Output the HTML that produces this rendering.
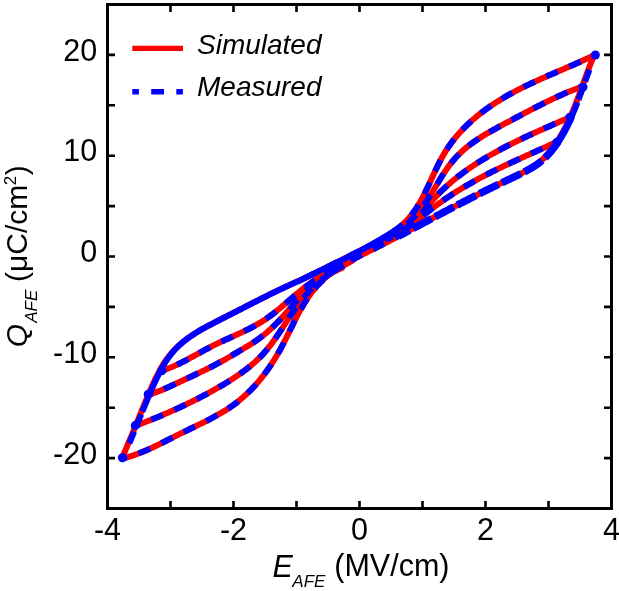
<!DOCTYPE html>
<html><head><meta charset="utf-8"><style>
html,body{margin:0;padding:0;background:#fff;}
body{width:619px;height:591px;position:relative;overflow:hidden;}
</style></head><body>
<svg width="619" height="591" viewBox="0 0 619 591" style="position:absolute;left:0;top:0;will-change:transform">
<rect width="619" height="591" fill="#fff"/>
<g fill="none" stroke="#f00" stroke-width="6.00" stroke-linejoin="round" stroke-linecap="round">
<path d="M328.00 271.30 L329.82 270.42 L331.64 269.54 L333.46 268.66 L335.28 267.79 L337.10 266.91 L338.92 266.03 L340.73 265.15 L342.55 264.27 L344.37 263.39 L346.18 262.51 L348.00 261.63 L349.81 260.74 L351.62 259.86 L353.43 258.97 L355.24 258.09 L357.05 257.20 L358.86 256.31 L360.67 255.42 L362.48 254.53 L364.29 253.63 L366.09 252.74 L367.90 251.84 L369.70 250.94 L371.50 250.04 L373.30 249.13 L375.10 248.22 L376.90 247.31 L378.70 246.40 L380.50 245.48 L382.29 244.56 L384.09 243.64 L385.88 242.72 L387.68 241.79 L389.47 240.87 L391.26 239.94 L393.05 239.01 L394.84 238.07 L396.63 237.14 L398.42 236.20 L400.20 235.26 L401.99 234.32 L403.78 233.38 L405.56 232.44 L407.35 231.50 L409.13 230.56 L410.92 229.61 L412.70 228.67 L414.48 227.72 L416.27 226.78 L418.05 225.83 L419.83 224.88 L421.61 223.94 L423.39 222.99 L425.17 222.04 L426.96 221.10 L428.74 220.15 L430.52 219.20 L432.30 218.26 L434.08 217.31 L435.86 216.37 L437.64 215.43 L439.42 214.48 L441.20 213.54 L442.98 212.60 L444.77 211.66 L446.55 210.72 L448.33 209.78 L450.12 208.84 L451.90 207.91 L453.68 206.97 L455.47 206.04 L457.26 205.11 L459.04 204.18 L460.83 203.25 L462.62 202.32 L464.41 201.40 L466.20 200.47 L468.00 199.55 L469.79 198.63 L471.58 197.72 L473.38 196.80 L475.18 195.89 L476.98 194.98 L478.78 194.07 L480.58 193.16 L482.38 192.26 L484.19 191.36 L486.00 190.46 L487.81 189.57 L489.62 188.68 L491.43 187.79 L493.25 186.90 L495.06 186.02 L496.88 185.14 L498.70 184.26 L500.53 183.39 L502.35 182.52 L504.18 181.65 L506.01 180.79 L507.84 179.93 L509.67 179.07 L511.50 178.20 L513.33 177.34 L515.16 176.46 L516.99 175.58 L518.79 174.69 L520.57 173.79 L522.33 172.88 L524.09 171.95 L525.84 171.01 L527.58 170.04 L529.31 169.06 L531.01 168.05 L532.70 167.00 L534.35 165.93 L535.97 164.81 L537.56 163.65 L539.10 162.44 L540.60 161.18 L542.05 159.88 L543.47 158.54 L544.84 157.15 L546.18 155.73 L547.48 154.27 L548.74 152.78 L549.97 151.25 L551.18 149.70 L552.41 148.12 L553.62 146.51 L554.80 144.88 L555.94 143.23 L557.07 141.55 L558.16 139.86 L559.23 138.16 L560.27 136.44 L561.29 134.71 L562.29 132.96 L563.26 131.20 L564.22 129.43 L565.15 127.65 L566.06 125.85 L566.96 124.05 L567.83 122.23 L568.69 120.41 L569.54 118.57 L570.36 116.73 L571.18 114.88 L571.98 113.02 L572.76 111.15 L573.54 109.28 L574.30 107.40 L575.05 105.51 L575.79 103.62 L576.52 101.73 L577.25 99.83 L577.97 97.93 L578.68 96.03 L579.38 94.12 L580.09 92.21 L580.78 90.30 L581.48 88.39 L582.17 86.48 L582.86 84.57 L583.55 82.66 L584.24 80.76 L584.93 78.85 L585.63 76.95 L586.32 75.05 L587.02 73.15 L587.73 71.26 L588.44 69.37 L589.15 67.49 L589.87 65.61 L590.60 63.74 L591.34 61.88 L592.09 60.02 L592.85 58.17 L593.62 56.33 L594.40 54.50"/>
<path d="M300.00 280.40 L298.12 281.22 L296.25 282.04 L294.39 282.86 L292.53 283.70 L290.68 284.53 L288.83 285.38 L286.99 286.22 L285.15 287.08 L283.32 287.93 L281.49 288.79 L279.67 289.66 L277.85 290.53 L276.03 291.40 L274.22 292.28 L272.41 293.16 L270.60 294.04 L268.80 294.93 L267.00 295.82 L265.20 296.71 L263.40 297.61 L261.61 298.51 L259.81 299.41 L258.02 300.32 L256.23 301.22 L254.44 302.13 L252.65 303.04 L250.86 303.96 L249.07 304.87 L247.28 305.79 L245.49 306.71 L243.69 307.62 L241.90 308.55 L240.11 309.47 L238.31 310.39 L236.52 311.31 L234.72 312.24 L232.92 313.16 L231.11 314.08 L229.31 315.01 L227.50 315.93 L225.69 316.86 L223.87 317.78 L222.06 318.70 L220.23 319.63 L218.41 320.55 L216.59 321.48 L214.76 322.41 L212.94 323.35 L211.13 324.29 L209.32 325.25 L207.51 326.21 L205.72 327.18 L203.93 328.16 L202.16 329.16 L200.40 330.17 L198.65 331.20 L196.91 332.25 L195.20 333.31 L193.50 334.40 L191.82 335.51 L190.17 336.64 L188.54 337.79 L186.93 338.97 L185.34 340.18 L183.73 341.41 L182.15 342.68 L180.60 343.97 L179.08 345.30 L177.59 346.66 L176.14 348.06 L174.71 349.49 L173.33 350.96 L171.98 352.47 L170.66 354.02 L169.38 355.60 L168.14 357.21 L166.92 358.85 L165.73 360.52 L164.57 362.22 L163.44 363.94 L162.36 365.68 L161.35 367.44 L160.37 369.22 L159.40 371.01 L158.46 372.82 L157.53 374.64 L156.63 376.46 L155.74 378.30 L154.86 380.15 L154.00 382.00 L153.15 383.86 L152.32 385.72 L151.49 387.58 L150.67 389.45 L149.86 391.32 L149.06 393.18 L148.26 395.05 L147.47 396.91 L146.68 398.78 L145.89 400.64 L145.11 402.51 L144.33 404.37 L143.56 406.23 L142.79 408.10 L142.02 409.96 L141.25 411.82 L140.49 413.68 L139.73 415.54 L138.97 417.40 L138.21 419.26 L137.45 421.13 L136.69 422.99 L135.93 424.85 L135.17 426.71 L134.41 428.57 L133.65 430.43 L132.89 432.29 L132.13 434.15 L131.36 436.02 L130.59 437.88 L129.82 439.74 L129.05 441.60 L128.27 443.47 L127.49 445.33 L126.71 447.20 L125.92 449.06 L125.13 450.93 L124.33 452.79 L123.52 454.66 L122.71 456.53 L121.90 458.40"/>
<path d="M595.60 54.50 L593.79 55.38 L591.99 56.26 L590.17 57.13 L588.35 57.99 L586.53 58.84 L584.71 59.68 L582.88 60.52 L581.05 61.35 L579.22 62.18 L577.39 63.00 L575.55 63.82 L573.71 64.63 L571.87 65.44 L570.03 66.25 L568.18 67.05 L566.34 67.85 L564.49 68.65 L562.65 69.45 L560.80 70.25 L558.95 71.04 L557.11 71.84 L555.26 72.64 L553.41 73.44 L551.57 74.24 L549.72 75.04 L547.88 75.85 L546.04 76.66 L544.20 77.47 L542.36 78.28 L540.53 79.10 L538.69 79.93 L536.86 80.76 L535.04 81.60 L533.21 82.44 L531.39 83.29 L529.57 84.15 L527.76 85.02 L525.95 85.89 L524.14 86.77 L522.34 87.67 L520.54 88.57 L518.75 89.48 L516.97 90.41 L515.18 91.34 L513.41 92.29 L511.64 93.24 L509.87 94.22 L508.12 95.20 L506.37 96.20 L504.62 97.21 L502.88 98.24 L501.16 99.28 L499.44 100.33 L497.72 101.40 L496.02 102.48 L494.33 103.58 L492.65 104.70 L490.97 105.82 L489.31 106.97 L487.66 108.13 L486.03 109.30 L484.40 110.49 L482.79 111.70 L481.19 112.92 L479.61 114.16 L478.04 115.41 L476.49 116.68 L474.95 117.97 L473.42 119.27 L471.92 120.59 L470.43 121.93 L468.96 123.28 L467.50 124.65 L466.07 126.04 L464.65 127.45 L463.25 128.87 L461.87 130.31 L460.51 131.77 L459.18 133.25 L457.86 134.74 L456.56 136.26 L455.29 137.79 L454.04 139.34 L452.81 140.91 L451.61 142.50 L450.43 144.11 L449.27 145.73 L448.14 147.38 L447.04 149.05 L445.96 150.73 L444.91 152.44 L443.88 154.16 L442.88 155.90 L441.90 157.66 L440.93 159.44 L439.99 161.22 L439.07 163.02 L438.16 164.83 L437.26 166.66 L436.37 168.49 L435.50 170.32 L434.63 172.17 L433.77 174.02 L432.91 175.87 L432.06 177.72 L431.21 179.58 L430.36 181.43 L429.50 183.29 L428.64 185.14 L427.78 186.99 L426.91 188.83 L426.02 190.66 L425.13 192.49 L424.23 194.30 L423.31 196.11 L422.37 197.90 L421.42 199.68 L420.44 201.44 L419.45 203.18 L418.43 204.90 L417.38 206.60 L416.31 208.27 L415.21 209.92 L414.08 211.54 L412.92 213.13 L411.72 214.69 L410.48 216.22 L409.21 217.71 L407.89 219.17 L406.55 220.59 L405.16 221.98 L403.74 223.34 L402.29 224.67 L400.80 225.97 L399.28 227.24 L397.74 228.48 L396.17 229.69 L394.57 230.88 L392.95 232.05 L391.30 233.19 L389.64 234.31 L387.95 235.41 L386.24 236.49 L384.52 237.55 L382.78 238.60 L381.03 239.62 L379.26 240.63 L377.49 241.63 L375.70 242.61 L373.90 243.59 L372.10 244.55 L370.29 245.50 L368.47 246.44 L366.66 247.38 L364.84 248.30 L363.02 249.23 L361.20 250.15 L359.39 251.06 L357.58 251.97 L355.77 252.88 L353.96 253.79 L352.16 254.70 L350.36 255.60 L348.57 256.50 L346.77 257.40 L344.98 258.30 L343.19 259.20 L341.40 260.09 L339.61 260.98 L337.82 261.88 L336.03 262.77 L334.25 263.65 L332.46 264.54 L330.67 265.43 L328.88 266.31 L327.09 267.20 L325.30 268.08 L323.51 268.96 L321.72 269.84 L319.93 270.73 L318.13 271.61 L316.33 272.49 L314.53 273.37 L312.73 274.25 L310.92 275.12 L309.11 276.00 L307.30 276.88 L305.48 277.76 L303.66 278.64 L301.83 279.52 L300.00 280.40"/>
<path d="M582.70 86.30 L580.77 87.00 L578.85 87.72 L576.94 88.45 L575.03 89.18 L573.14 89.94 L571.25 90.70 L569.38 91.47 L567.51 92.26 L565.64 93.05 L563.79 93.86 L561.94 94.67 L560.10 95.49 L558.26 96.33 L556.43 97.17 L554.60 98.02 L552.78 98.88 L550.97 99.74 L549.15 100.62 L547.35 101.50 L545.54 102.38 L543.74 103.28 L541.94 104.18 L540.15 105.08 L538.35 105.99 L536.56 106.91 L534.77 107.83 L532.98 108.76 L531.19 109.69 L529.40 110.62 L527.62 111.56 L525.83 112.50 L524.04 113.44 L522.25 114.39 L520.46 115.34 L518.67 116.29 L516.87 117.24 L515.08 118.19 L513.28 119.15 L511.47 120.10 L509.67 121.06 L507.86 122.01 L506.05 122.97 L504.24 123.93 L502.43 124.90 L500.62 125.86 L498.81 126.84 L497.00 127.82 L495.20 128.81 L493.41 129.80 L491.62 130.81 L489.84 131.82 L488.07 132.85 L486.31 133.89 L484.56 134.94 L482.82 136.00 L481.09 137.09 L479.38 138.18 L477.68 139.30 L476.00 140.43 L474.34 141.58 L472.69 142.75 L471.07 143.94 L469.46 145.15 L467.88 146.39 L466.32 147.65 L464.78 148.93 L463.26 150.24 L461.78 151.58 L460.32 152.94 L458.88 154.34 L457.48 155.76 L456.10 157.21 L454.76 158.69 L453.45 160.21 L452.17 161.75 L450.91 163.33 L449.69 164.93 L448.48 166.55 L447.30 168.20 L446.15 169.87 L445.01 171.56 L443.88 173.26 L442.77 174.98 L441.68 176.71 L440.59 178.45 L439.51 180.20 L438.44 181.95 L437.38 183.71 L436.32 185.48 L435.26 187.24 L434.20 189.00 L433.13 190.76 L432.07 192.51 L430.99 194.26 L429.91 196.00 L428.81 197.72 L427.71 199.43 L426.58 201.13 L425.45 202.81 L424.29 204.47 L423.12 206.11 L421.92 207.72 L420.70 209.32 L419.46 210.88 L418.19 212.43 L416.89 213.94 L415.57 215.43 L414.23 216.90 L412.85 218.33 L411.44 219.73 L410.01 221.11 L408.54 222.45 L407.03 223.76 L405.50 225.03 L403.93 226.28 L402.32 227.48 L400.68 228.66 L399.00 229.79 L397.29 230.90 L395.56 231.97 L393.80 233.02 L392.01 234.04 L390.22 235.04 L388.40 236.01 L386.58 236.97 L384.75 237.90 L382.91 238.82 L381.07 239.73 L379.23 240.62 L377.40 241.50"/>
<path d="M570.40 117.00 L568.56 117.81 L566.72 118.61 L564.88 119.42 L563.04 120.23 L561.20 121.03 L559.35 121.84 L557.50 122.65 L555.65 123.46 L553.80 124.27 L551.95 125.08 L550.10 125.89 L548.25 126.71 L546.39 127.52 L544.54 128.34 L542.69 129.17 L540.84 129.99 L538.99 130.82 L537.14 131.65 L535.29 132.49 L533.44 133.33 L531.60 134.17 L529.75 135.02 L527.91 135.87 L526.07 136.73 L524.23 137.59 L522.39 138.46 L520.56 139.33 L518.73 140.21 L516.90 141.09 L515.08 141.98 L513.26 142.88 L511.44 143.79 L509.63 144.70 L507.82 145.62 L506.02 146.54 L504.22 147.48 L502.43 148.42 L500.64 149.37 L498.85 150.33 L497.08 151.29 L495.30 152.27 L493.53 153.26 L491.77 154.25 L490.02 155.25 L488.27 156.27 L486.53 157.29 L484.79 158.33 L483.06 159.37 L481.34 160.43 L479.63 161.50 L477.92 162.58 L476.23 163.67 L474.54 164.77 L472.86 165.88 L471.18 167.01 L469.52 168.15 L467.86 169.30 L466.22 170.46 L464.58 171.64 L462.95 172.83 L461.34 174.04 L459.73 175.26 L458.14 176.49 L456.55 177.74 L454.98 179.00 L453.42 180.27 L451.87 181.56 L450.34 182.87 L448.81 184.19 L447.30 185.52 L445.81 186.87 L444.32 188.24 L442.86 189.62 L441.40 191.02 L439.96 192.43 L438.54 193.86 L437.13 195.31 L435.74 196.77 L434.36 198.25 L433.00 199.75 L431.66 201.26 L430.33 202.80 L429.02 204.34 L427.73 205.91 L426.44 207.48 L425.16 209.05 L423.88 210.62 L422.59 212.19 L421.30 213.75 L419.99 215.29 L418.66 216.81 L417.32 218.31 L415.95 219.78 L414.54 221.21 L413.11 222.60 L411.63 223.95 L410.11 225.25 L408.54 226.50 L406.92 227.69 L405.25 228.82 L403.53 229.90 L401.78 230.93 L399.99 231.91 L398.17 232.85 L396.33 233.75 L394.46 234.61 L392.58 235.45 L390.69 236.25 L388.79 237.02 L386.89 237.77 L385.00 238.50"/>
<path d="M557.50 141.50 L555.67 142.36 L553.83 143.22 L551.99 144.07 L550.15 144.92 L548.31 145.77 L546.47 146.62 L544.62 147.46 L542.77 148.30 L540.92 149.14 L539.07 149.98 L537.22 150.82 L535.36 151.66 L533.51 152.50 L531.65 153.34 L529.80 154.17 L527.94 155.01 L526.08 155.85 L524.23 156.69 L522.37 157.53 L520.52 158.37 L518.66 159.22 L516.81 160.07 L514.96 160.91 L513.10 161.77 L511.25 162.62 L509.41 163.48 L507.56 164.34 L505.71 165.21 L503.87 166.08 L502.03 166.95 L500.20 167.83 L498.36 168.72 L496.53 169.61 L494.70 170.50 L492.88 171.40 L491.05 172.31 L489.24 173.22 L487.42 174.14 L485.61 175.07 L483.81 176.01 L482.01 176.95 L480.21 177.90 L478.42 178.86 L476.64 179.82 L474.85 180.80 L473.08 181.78 L471.31 182.78 L469.55 183.78 L467.79 184.80 L466.04 185.82 L464.29 186.85 L462.55 187.89 L460.82 188.95 L459.09 190.01 L457.37 191.08 L455.65 192.16 L453.95 193.25 L452.24 194.35 L450.55 195.46 L448.85 196.58 L447.17 197.71 L445.49 198.85 L443.82 200.00 L442.16 201.16 L440.50 202.33 L438.84 203.51 L437.20 204.69 L435.56 205.89 L433.92 207.10 L432.30 208.32 L430.68 209.54 L429.06 210.78 L427.45 212.02 L425.85 213.28 L424.26 214.55 L422.67 215.82 L421.09 217.10 L419.50 218.39 L417.92 219.67 L416.34 220.95 L414.75 222.22 L413.16 223.49 L411.55 224.73 L409.94 225.97 L408.31 227.18 L406.67 228.36 L405.01 229.52 L403.34 230.65 L401.64 231.75 L399.91 232.80 L398.16 233.82 L396.38 234.79 L394.57 235.71 L392.73 236.59 L390.86 237.41 L388.94 238.17 L386.99 238.87 L385.00 239.50"/>
<path d="M122.90 458.40 L124.90 457.89 L126.88 457.35 L128.84 456.78 L130.79 456.19 L132.72 455.56 L134.64 454.91 L136.54 454.23 L138.43 453.52 L140.31 452.80 L142.18 452.05 L144.04 451.28 L145.89 450.50 L147.74 449.69 L149.57 448.87 L151.40 448.04 L153.22 447.19 L155.03 446.33 L156.84 445.46 L158.65 444.57 L160.45 443.68 L162.25 442.78 L164.05 441.88 L165.84 440.96 L167.64 440.05 L169.44 439.13 L171.24 438.22 L173.04 437.30 L174.84 436.38 L176.65 435.47 L178.46 434.56 L180.28 433.65 L182.10 432.76 L183.93 431.86 L185.76 430.97 L187.60 430.09 L189.44 429.20 L191.28 428.32 L193.12 427.43 L194.96 426.55 L196.79 425.66 L198.63 424.77 L200.47 423.88 L202.30 422.98 L204.13 422.07 L205.95 421.16 L207.76 420.24 L209.57 419.31 L211.38 418.36 L213.17 417.41 L214.96 416.45 L216.73 415.47 L218.50 414.47 L220.25 413.47 L221.99 412.44 L223.72 411.40 L225.43 410.34 L227.13 409.26 L228.81 408.15 L230.48 407.03 L232.13 405.88 L233.76 404.72 L235.37 403.52 L236.96 402.30 L238.54 401.06 L240.09 399.79 L241.63 398.50 L243.15 397.19 L244.65 395.85 L246.13 394.50 L247.59 393.12 L249.03 391.72 L250.46 390.30 L251.86 388.86 L253.25 387.40 L254.62 385.92 L255.97 384.42 L257.30 382.91 L258.62 381.37 L259.92 379.82 L261.20 378.25 L262.46 376.67 L263.70 375.07 L264.93 373.45 L266.13 371.82 L267.33 370.18 L268.50 368.52 L269.65 366.84 L270.79 365.16 L271.91 363.46 L273.02 361.74 L274.10 360.02 L275.17 358.28 L276.23 356.54 L277.26 354.78 L278.28 353.01 L279.28 351.24 L280.27 349.45 L281.24 347.66 L282.19 345.86 L283.13 344.05 L284.07 342.23 L284.99 340.42 L285.90 338.59 L286.81 336.77 L287.71 334.94 L288.61 333.11 L289.50 331.28 L290.40 329.46 L291.29 327.63 L292.18 325.81 L293.08 323.99 L293.98 322.17 L294.89 320.36 L295.81 318.55 L296.73 316.76 L297.66 314.97 L298.61 313.19 L299.57 311.41 L300.54 309.65 L301.53 307.90 L302.53 306.17 L303.56 304.44 L304.60 302.73 L305.67 301.04 L306.75 299.36 L307.87 297.70 L309.00 296.05 L310.17 294.43 L311.36 292.82 L312.59 291.23 L313.84 289.67 L315.13 288.13 L316.45 286.61 L317.80 285.11 L319.18 283.65 L320.60 282.21 L322.04 280.79 L323.52 279.41 L325.03 278.06 L326.57 276.74 L328.14 275.46 L329.74 274.21 L331.37 273.00 L333.02 271.83 L334.71 270.69 L336.42 269.60 L338.16 268.54 L339.92 267.52 L341.69 266.52 L343.47 265.53 L345.26 264.55 L347.04 263.57 L348.81 262.58 L350.56 261.58 L352.29 260.56 L354.00 259.50"/>
<path d="M135.90 425.70 L137.81 424.98 L139.71 424.25 L141.61 423.51 L143.51 422.78 L145.40 422.03 L147.30 421.29 L149.18 420.54 L151.07 419.78 L152.95 419.02 L154.82 418.25 L156.70 417.48 L158.57 416.71 L160.44 415.92 L162.30 415.14 L164.16 414.34 L166.02 413.55 L167.87 412.74 L169.72 411.93 L171.57 411.11 L173.41 410.29 L175.25 409.46 L177.09 408.63 L178.93 407.79 L180.76 406.94 L182.59 406.08 L184.41 405.22 L186.23 404.35 L188.05 403.48 L189.87 402.59 L191.68 401.70 L193.49 400.81 L195.29 399.90 L197.09 398.99 L198.89 398.07 L200.69 397.14 L202.48 396.20 L204.27 395.26 L206.06 394.31 L207.84 393.35 L209.63 392.38 L211.40 391.40 L213.18 390.41 L214.95 389.42 L216.72 388.42 L218.48 387.40 L220.25 386.38 L222.01 385.35 L223.76 384.31 L225.51 383.26 L227.26 382.20 L229.00 381.12 L230.73 380.04 L232.45 378.94 L234.16 377.83 L235.86 376.70 L237.56 375.56 L239.23 374.40 L240.90 373.23 L242.55 372.04 L244.19 370.84 L245.81 369.62 L247.41 368.38 L249.00 367.12 L250.57 365.84 L252.11 364.54 L253.64 363.22 L255.14 361.88 L256.63 360.51 L258.08 359.13 L259.52 357.72 L260.93 356.29 L262.31 354.83 L263.67 353.35 L265.00 351.85 L266.30 350.32 L267.58 348.77 L268.85 347.21 L270.09 345.62 L271.31 344.02 L272.51 342.40 L273.70 340.76 L274.88 339.12 L276.04 337.46 L277.19 335.79 L278.34 334.11 L279.47 332.42 L280.60 330.73 L281.72 329.03 L282.84 327.32 L283.95 325.62 L285.07 323.91 L286.18 322.20 L287.30 320.49 L288.42 318.78 L289.54 317.08 L290.67 315.38 L291.81 313.69 L292.96 312.00 L294.12 310.32 L295.29 308.66 L296.48 307.00 L297.67 305.36 L298.89 303.73 L300.11 302.11 L301.36 300.51 L302.62 298.92 L303.90 297.36 L305.19 295.81 L306.51 294.28 L307.84 292.77 L309.20 291.29 L310.58 289.83 L311.98 288.39 L313.41 286.98 L314.85 285.60 L316.33 284.24 L317.83 282.91 L319.35 281.61 L320.91 280.35 L322.49 279.11 L324.10 277.91 L325.74 276.75 L327.42 275.62 L329.12 274.52 L330.86 273.47 L332.63 272.45 L334.43 271.48 L336.27 270.54 L338.14 269.65 L340.05 268.80 L342.00 268.00"/>
<path d="M148.60 394.70 L150.54 394.11 L152.47 393.48 L154.39 392.82 L156.29 392.13 L158.18 391.42 L160.07 390.67 L161.94 389.91 L163.81 389.13 L165.67 388.33 L167.53 387.51 L169.38 386.68 L171.22 385.84 L173.06 384.99 L174.90 384.13 L176.74 383.27 L178.57 382.41 L180.41 381.55 L182.24 380.69 L184.08 379.83 L185.92 378.98 L187.76 378.12 L189.59 377.27 L191.43 376.41 L193.26 375.56 L195.09 374.70 L196.93 373.83 L198.76 372.97 L200.58 372.10 L202.41 371.22 L204.23 370.34 L206.05 369.45 L207.86 368.55 L209.67 367.65 L211.48 366.73 L213.28 365.81 L215.07 364.88 L216.86 363.93 L218.65 362.97 L220.43 362.00 L222.20 361.02 L223.97 360.03 L225.74 359.03 L227.50 358.02 L229.26 357.00 L231.02 355.98 L232.77 354.95 L234.52 353.92 L236.27 352.88 L238.02 351.84 L239.77 350.79 L241.52 349.75 L243.27 348.71 L245.01 347.66 L246.76 346.62 L248.50 345.57 L250.24 344.50 L251.96 343.43 L253.67 342.34 L255.36 341.22 L257.03 340.08 L258.67 338.91 L260.30 337.72 L261.90 336.49 L263.48 335.24 L265.03 333.97 L266.57 332.67 L268.09 331.35 L269.59 330.00 L271.08 328.64 L272.55 327.26 L274.00 325.86 L275.44 324.44 L276.86 323.01 L278.27 321.56 L279.67 320.09 L281.06 318.62 L282.44 317.13 L283.81 315.63 L285.17 314.12 L286.52 312.60 L287.86 311.08 L289.20 309.55 L290.54 308.01 L291.87 306.47 L293.19 304.93 L294.52 303.38 L295.84 301.83 L297.16 300.29 L298.49 298.75 L299.82 297.21 L301.16 295.69 L302.51 294.18 L303.87 292.69 L305.25 291.21 L306.65 289.76 L308.07 288.33 L309.52 286.93 L310.99 285.56 L312.48 284.22 L314.01 282.92 L315.57 281.66 L317.17 280.44 L318.81 279.26 L320.47 278.12 L322.18 277.02 L323.91 275.97 L325.68 274.95 L327.49 273.98 L329.32 273.05 L331.18 272.16 L333.08 271.31 L335.00 270.50"/>
<path d="M161.80 370.80 L163.73 370.15 L165.65 369.47 L167.54 368.75 L169.43 368.01 L171.29 367.24 L173.15 366.45 L174.99 365.63 L176.82 364.78 L178.64 363.92 L180.45 363.04 L182.26 362.14 L184.05 361.23 L185.84 360.30 L187.62 359.37 L189.40 358.42 L191.17 357.46 L192.94 356.50 L194.71 355.53 L196.48 354.56 L198.24 353.58 L200.01 352.61 L201.78 351.64 L203.55 350.67 L205.33 349.71 L207.11 348.76 L208.90 347.81 L210.69 346.88 L212.49 345.95 L214.30 345.04 L216.12 344.15 L217.94 343.27 L219.78 342.40 L221.62 341.54 L223.46 340.68 L225.31 339.84 L227.16 339.00 L229.01 338.16 L230.86 337.32 L232.71 336.49 L234.56 335.65 L236.41 334.81 L238.25 333.97 L240.10 333.12 L241.93 332.26 L243.76 331.39 L245.58 330.51 L247.40 329.62 L249.20 328.71 L250.99 327.79 L252.78 326.85 L254.55 325.90 L256.30 324.92 L258.05 323.92 L259.78 322.90 L261.49 321.85 L263.18 320.77 L264.86 319.67 L266.52 318.54 L268.16 317.38 L269.79 316.20 L271.40 315.00 L273.00 313.78 L274.59 312.54 L276.17 311.28 L277.74 310.01 L279.30 308.73 L280.85 307.44 L282.40 306.13 L283.94 304.82 L285.48 303.51 L287.02 302.19 L288.56 300.87 L290.09 299.55 L291.63 298.23 L293.17 296.91 L294.72 295.60 L296.26 294.30 L297.82 293.00 L299.38 291.72 L300.95 290.45 L302.53 289.19 L304.12 287.95 L305.72 286.73 L307.33 285.52 L308.96 284.34 L310.60 283.18 L312.26 282.05 L313.94 280.94 L315.63 279.87 L317.35 278.82 L319.08 277.81 L320.84 276.83 L322.62 275.88 L324.43 274.97 L326.26 274.11 L328.11 273.28 L330.00 272.50"/>
</g>
<g fill="none" stroke="#00f" stroke-width="6.00" stroke-linejoin="round" stroke-dasharray="12.5 12.5" stroke-dashoffset="8.5">
<path d="M595.60 54.50 L593.79 55.38 L591.99 56.26 L590.17 57.13 L588.35 57.99 L586.53 58.84 L584.71 59.68 L582.88 60.52 L581.05 61.35 L579.22 62.18 L577.39 63.00 L575.55 63.82 L573.71 64.63 L571.87 65.44 L570.03 66.25 L568.18 67.05 L566.34 67.85 L564.49 68.65 L562.65 69.45 L560.80 70.25 L558.95 71.04 L557.11 71.84 L555.26 72.64 L553.41 73.44 L551.57 74.24 L549.72 75.04 L547.88 75.85 L546.04 76.66 L544.20 77.47 L542.36 78.28 L540.53 79.10 L538.69 79.93 L536.86 80.76 L535.04 81.60 L533.21 82.44 L531.39 83.29 L529.57 84.15 L527.76 85.02 L525.95 85.89 L524.14 86.77 L522.34 87.67 L520.54 88.57 L518.75 89.48 L516.97 90.41 L515.18 91.34 L513.41 92.29 L511.64 93.24 L509.87 94.22 L508.12 95.20 L506.37 96.20 L504.62 97.21 L502.88 98.24 L501.16 99.28 L499.44 100.33 L497.72 101.40 L496.02 102.48 L494.33 103.58 L492.65 104.70 L490.97 105.82 L489.31 106.97 L487.66 108.13 L486.03 109.30 L484.40 110.49 L482.79 111.70 L481.19 112.92 L479.61 114.16 L478.04 115.41 L476.49 116.68 L474.95 117.97 L473.42 119.27 L471.92 120.59 L470.43 121.93 L468.96 123.28 L467.50 124.65 L466.07 126.04 L464.65 127.45 L463.25 128.87 L461.87 130.31 L460.51 131.77 L459.18 133.25 L457.86 134.74 L456.56 136.26 L455.29 137.79 L454.04 139.34 L452.81 140.91 L451.61 142.50 L450.43 144.11 L449.27 145.73 L448.14 147.38 L447.04 149.05 L445.96 150.73 L444.91 152.44 L443.88 154.16 L442.88 155.90 L441.90 157.66 L440.93 159.44 L439.99 161.22 L439.07 163.02 L438.16 164.83 L437.26 166.66 L436.37 168.49 L435.50 170.32 L434.63 172.17 L433.77 174.02 L432.91 175.87 L432.06 177.72 L431.21 179.58 L430.36 181.43 L429.50 183.29 L428.64 185.14 L427.78 186.99 L426.91 188.83 L426.02 190.66 L425.13 192.49 L424.23 194.30 L423.31 196.11 L422.37 197.90 L421.42 199.68 L420.44 201.44 L419.45 203.18 L418.43 204.90 L417.38 206.60 L416.31 208.27 L415.21 209.92 L414.08 211.54 L412.92 213.13 L411.72 214.69 L410.48 216.22 L409.21 217.71 L407.89 219.17 L406.55 220.59 L405.16 221.98 L403.74 223.34 L402.29 224.67 L400.80 225.97 L399.28 227.24 L397.74 228.48 L396.17 229.69 L394.57 230.88 L392.95 232.05 L391.30 233.19 L389.64 234.31 L387.95 235.41 L386.24 236.49 L384.52 237.55 L382.78 238.60 L381.03 239.62 L379.26 240.63 L377.49 241.63 L375.70 242.61 L373.90 243.59 L372.10 244.55 L370.29 245.50 L368.47 246.44 L366.66 247.38 L364.84 248.30 L363.02 249.23 L361.20 250.15 L359.39 251.06 L357.58 251.97 L355.77 252.88 L353.96 253.79 L352.16 254.70 L350.36 255.60 L348.57 256.50 L346.77 257.40 L344.98 258.30 L343.19 259.20 L341.40 260.09 L339.61 260.98 L337.82 261.88 L336.03 262.77 L334.25 263.65 L332.46 264.54 L330.67 265.43 L328.88 266.31 L327.09 267.20 L325.30 268.08 L323.51 268.96 L321.72 269.84 L319.93 270.73 L318.13 271.61 L316.33 272.49 L314.53 273.37 L312.73 274.25 L310.92 275.12 L309.11 276.00 L307.30 276.88 L305.48 277.76 L303.66 278.64 L301.83 279.52 L300.00 280.40"/>
<path d="M582.70 86.30 L580.77 87.00 L578.85 87.72 L576.94 88.45 L575.03 89.18 L573.14 89.94 L571.25 90.70 L569.38 91.47 L567.51 92.26 L565.64 93.05 L563.79 93.86 L561.94 94.67 L560.10 95.49 L558.26 96.33 L556.43 97.17 L554.60 98.02 L552.78 98.88 L550.97 99.74 L549.15 100.62 L547.35 101.50 L545.54 102.38 L543.74 103.28 L541.94 104.18 L540.15 105.08 L538.35 105.99 L536.56 106.91 L534.77 107.83 L532.98 108.76 L531.19 109.69 L529.40 110.62 L527.62 111.56 L525.83 112.50 L524.04 113.44 L522.25 114.39 L520.46 115.34 L518.67 116.29 L516.87 117.24 L515.08 118.19 L513.28 119.15 L511.47 120.10 L509.67 121.06 L507.86 122.01 L506.05 122.97 L504.24 123.93 L502.43 124.90 L500.62 125.86 L498.81 126.84 L497.00 127.82 L495.20 128.81 L493.41 129.80 L491.62 130.81 L489.84 131.82 L488.07 132.85 L486.31 133.89 L484.56 134.94 L482.82 136.00 L481.09 137.09 L479.38 138.18 L477.68 139.30 L476.00 140.43 L474.34 141.58 L472.69 142.75 L471.07 143.94 L469.46 145.15 L467.88 146.39 L466.32 147.65 L464.78 148.93 L463.26 150.24 L461.78 151.58 L460.32 152.94 L458.88 154.34 L457.48 155.76 L456.10 157.21 L454.76 158.69 L453.45 160.21 L452.17 161.75 L450.91 163.33 L449.69 164.93 L448.48 166.55 L447.30 168.20 L446.15 169.87 L445.01 171.56 L443.88 173.26 L442.77 174.98 L441.68 176.71 L440.59 178.45 L439.51 180.20 L438.44 181.95 L437.38 183.71 L436.32 185.48 L435.26 187.24 L434.20 189.00 L433.13 190.76 L432.07 192.51 L430.99 194.26 L429.91 196.00 L428.81 197.72 L427.71 199.43 L426.58 201.13 L425.45 202.81 L424.29 204.47 L423.12 206.11 L421.92 207.72 L420.70 209.32 L419.46 210.88 L418.19 212.43 L416.89 213.94 L415.57 215.43 L414.23 216.90 L412.85 218.33 L411.44 219.73 L410.01 221.11 L408.54 222.45 L407.03 223.76 L405.50 225.03 L403.93 226.28 L402.32 227.48 L400.68 228.66 L399.00 229.79 L397.29 230.90 L395.56 231.97 L393.80 233.02 L392.01 234.04 L390.22 235.04 L388.40 236.01 L386.58 236.97 L384.75 237.90 L382.91 238.82 L381.07 239.73 L379.23 240.62 L377.40 241.50"/>
<path d="M570.40 117.00 L568.56 117.81 L566.72 118.61 L564.88 119.42 L563.04 120.23 L561.20 121.03 L559.35 121.84 L557.50 122.65 L555.65 123.46 L553.80 124.27 L551.95 125.08 L550.10 125.89 L548.25 126.71 L546.39 127.52 L544.54 128.34 L542.69 129.17 L540.84 129.99 L538.99 130.82 L537.14 131.65 L535.29 132.49 L533.44 133.33 L531.60 134.17 L529.75 135.02 L527.91 135.87 L526.07 136.73 L524.23 137.59 L522.39 138.46 L520.56 139.33 L518.73 140.21 L516.90 141.09 L515.08 141.98 L513.26 142.88 L511.44 143.79 L509.63 144.70 L507.82 145.62 L506.02 146.54 L504.22 147.48 L502.43 148.42 L500.64 149.37 L498.85 150.33 L497.08 151.29 L495.30 152.27 L493.53 153.26 L491.77 154.25 L490.02 155.25 L488.27 156.27 L486.53 157.29 L484.79 158.33 L483.06 159.37 L481.34 160.43 L479.63 161.50 L477.92 162.58 L476.23 163.67 L474.54 164.77 L472.86 165.88 L471.18 167.01 L469.52 168.15 L467.86 169.30 L466.22 170.46 L464.58 171.64 L462.95 172.83 L461.34 174.04 L459.73 175.26 L458.14 176.49 L456.55 177.74 L454.98 179.00 L453.42 180.27 L451.87 181.56 L450.34 182.87 L448.81 184.19 L447.30 185.52 L445.81 186.87 L444.32 188.24 L442.86 189.62 L441.40 191.02 L439.96 192.43 L438.54 193.86 L437.13 195.31 L435.74 196.77 L434.36 198.25 L433.00 199.75 L431.66 201.26 L430.33 202.80 L429.02 204.34 L427.73 205.91 L426.44 207.48 L425.16 209.05 L423.88 210.62 L422.59 212.19 L421.30 213.75 L419.99 215.29 L418.66 216.81 L417.32 218.31 L415.95 219.78 L414.54 221.21 L413.11 222.60 L411.63 223.95 L410.11 225.25 L408.54 226.50 L406.92 227.69 L405.25 228.82 L403.53 229.90 L401.78 230.93 L399.99 231.91 L398.17 232.85 L396.33 233.75 L394.46 234.61 L392.58 235.45 L390.69 236.25 L388.79 237.02 L386.89 237.77 L385.00 238.50"/>
<path d="M557.50 141.50 L555.67 142.36 L553.83 143.22 L551.99 144.07 L550.15 144.92 L548.31 145.77 L546.47 146.62 L544.62 147.46 L542.77 148.30 L540.92 149.14 L539.07 149.98 L537.22 150.82 L535.36 151.66 L533.51 152.50 L531.65 153.34 L529.80 154.17 L527.94 155.01 L526.08 155.85 L524.23 156.69 L522.37 157.53 L520.52 158.37 L518.66 159.22 L516.81 160.07 L514.96 160.91 L513.10 161.77 L511.25 162.62 L509.41 163.48 L507.56 164.34 L505.71 165.21 L503.87 166.08 L502.03 166.95 L500.20 167.83 L498.36 168.72 L496.53 169.61 L494.70 170.50 L492.88 171.40 L491.05 172.31 L489.24 173.22 L487.42 174.14 L485.61 175.07 L483.81 176.01 L482.01 176.95 L480.21 177.90 L478.42 178.86 L476.64 179.82 L474.85 180.80 L473.08 181.78 L471.31 182.78 L469.55 183.78 L467.79 184.80 L466.04 185.82 L464.29 186.85 L462.55 187.89 L460.82 188.95 L459.09 190.01 L457.37 191.08 L455.65 192.16 L453.95 193.25 L452.24 194.35 L450.55 195.46 L448.85 196.58 L447.17 197.71 L445.49 198.85 L443.82 200.00 L442.16 201.16 L440.50 202.33 L438.84 203.51 L437.20 204.69 L435.56 205.89 L433.92 207.10 L432.30 208.32 L430.68 209.54 L429.06 210.78 L427.45 212.02 L425.85 213.28 L424.26 214.55 L422.67 215.82 L421.09 217.10 L419.50 218.39 L417.92 219.67 L416.34 220.95 L414.75 222.22 L413.16 223.49 L411.55 224.73 L409.94 225.97 L408.31 227.18 L406.67 228.36 L405.01 229.52 L403.34 230.65 L401.64 231.75 L399.91 232.80 L398.16 233.82 L396.38 234.79 L394.57 235.71 L392.73 236.59 L390.86 237.41 L388.94 238.17 L386.99 238.87 L385.00 239.50"/>
<path d="M122.90 458.40 L124.90 457.89 L126.88 457.35 L128.84 456.78 L130.79 456.19 L132.72 455.56 L134.64 454.91 L136.54 454.23 L138.43 453.52 L140.31 452.80 L142.18 452.05 L144.04 451.28 L145.89 450.50 L147.74 449.69 L149.57 448.87 L151.40 448.04 L153.22 447.19 L155.03 446.33 L156.84 445.46 L158.65 444.57 L160.45 443.68 L162.25 442.78 L164.05 441.88 L165.84 440.96 L167.64 440.05 L169.44 439.13 L171.24 438.22 L173.04 437.30 L174.84 436.38 L176.65 435.47 L178.46 434.56 L180.28 433.65 L182.10 432.76 L183.93 431.86 L185.76 430.97 L187.60 430.09 L189.44 429.20 L191.28 428.32 L193.12 427.43 L194.96 426.55 L196.79 425.66 L198.63 424.77 L200.47 423.88 L202.30 422.98 L204.13 422.07 L205.95 421.16 L207.76 420.24 L209.57 419.31 L211.38 418.36 L213.17 417.41 L214.96 416.45 L216.73 415.47 L218.50 414.47 L220.25 413.47 L221.99 412.44 L223.72 411.40 L225.43 410.34 L227.13 409.26 L228.81 408.15 L230.48 407.03 L232.13 405.88 L233.76 404.72 L235.37 403.52 L236.96 402.30 L238.54 401.06 L240.09 399.79 L241.63 398.50 L243.15 397.19 L244.65 395.85 L246.13 394.50 L247.59 393.12 L249.03 391.72 L250.46 390.30 L251.86 388.86 L253.25 387.40 L254.62 385.92 L255.97 384.42 L257.30 382.91 L258.62 381.37 L259.92 379.82 L261.20 378.25 L262.46 376.67 L263.70 375.07 L264.93 373.45 L266.13 371.82 L267.33 370.18 L268.50 368.52 L269.65 366.84 L270.79 365.16 L271.91 363.46 L273.02 361.74 L274.10 360.02 L275.17 358.28 L276.23 356.54 L277.26 354.78 L278.28 353.01 L279.28 351.24 L280.27 349.45 L281.24 347.66 L282.19 345.86 L283.13 344.05 L284.07 342.23 L284.99 340.42 L285.90 338.59 L286.81 336.77 L287.71 334.94 L288.61 333.11 L289.50 331.28 L290.40 329.46 L291.29 327.63 L292.18 325.81 L293.08 323.99 L293.98 322.17 L294.89 320.36 L295.81 318.55 L296.73 316.76 L297.66 314.97 L298.61 313.19 L299.57 311.41 L300.54 309.65 L301.53 307.90 L302.53 306.17 L303.56 304.44 L304.60 302.73 L305.67 301.04 L306.75 299.36 L307.87 297.70 L309.00 296.05 L310.17 294.43 L311.36 292.82 L312.59 291.23 L313.84 289.67 L315.13 288.13 L316.45 286.61 L317.80 285.11 L319.18 283.65 L320.60 282.21 L322.04 280.79 L323.52 279.41 L325.03 278.06 L326.57 276.74 L328.14 275.46 L329.74 274.21 L331.37 273.00 L333.02 271.83 L334.71 270.69 L336.42 269.60 L338.16 268.54 L339.92 267.52 L341.69 266.52 L343.47 265.53 L345.26 264.55 L347.04 263.57 L348.81 262.58 L350.56 261.58 L352.29 260.56 L354.00 259.50"/>
<path d="M135.90 425.70 L137.81 424.98 L139.71 424.25 L141.61 423.51 L143.51 422.78 L145.40 422.03 L147.30 421.29 L149.18 420.54 L151.07 419.78 L152.95 419.02 L154.82 418.25 L156.70 417.48 L158.57 416.71 L160.44 415.92 L162.30 415.14 L164.16 414.34 L166.02 413.55 L167.87 412.74 L169.72 411.93 L171.57 411.11 L173.41 410.29 L175.25 409.46 L177.09 408.63 L178.93 407.79 L180.76 406.94 L182.59 406.08 L184.41 405.22 L186.23 404.35 L188.05 403.48 L189.87 402.59 L191.68 401.70 L193.49 400.81 L195.29 399.90 L197.09 398.99 L198.89 398.07 L200.69 397.14 L202.48 396.20 L204.27 395.26 L206.06 394.31 L207.84 393.35 L209.63 392.38 L211.40 391.40 L213.18 390.41 L214.95 389.42 L216.72 388.42 L218.48 387.40 L220.25 386.38 L222.01 385.35 L223.76 384.31 L225.51 383.26 L227.26 382.20 L229.00 381.12 L230.73 380.04 L232.45 378.94 L234.16 377.83 L235.86 376.70 L237.56 375.56 L239.23 374.40 L240.90 373.23 L242.55 372.04 L244.19 370.84 L245.81 369.62 L247.41 368.38 L249.00 367.12 L250.57 365.84 L252.11 364.54 L253.64 363.22 L255.14 361.88 L256.63 360.51 L258.08 359.13 L259.52 357.72 L260.93 356.29 L262.31 354.83 L263.67 353.35 L265.00 351.85 L266.30 350.32 L267.58 348.77 L268.85 347.21 L270.09 345.62 L271.31 344.02 L272.51 342.40 L273.70 340.76 L274.88 339.12 L276.04 337.46 L277.19 335.79 L278.34 334.11 L279.47 332.42 L280.60 330.73 L281.72 329.03 L282.84 327.32 L283.95 325.62 L285.07 323.91 L286.18 322.20 L287.30 320.49 L288.42 318.78 L289.54 317.08 L290.67 315.38 L291.81 313.69 L292.96 312.00 L294.12 310.32 L295.29 308.66 L296.48 307.00 L297.67 305.36 L298.89 303.73 L300.11 302.11 L301.36 300.51 L302.62 298.92 L303.90 297.36 L305.19 295.81 L306.51 294.28 L307.84 292.77 L309.20 291.29 L310.58 289.83 L311.98 288.39 L313.41 286.98 L314.85 285.60 L316.33 284.24 L317.83 282.91 L319.35 281.61 L320.91 280.35 L322.49 279.11 L324.10 277.91 L325.74 276.75 L327.42 275.62 L329.12 274.52 L330.86 273.47 L332.63 272.45 L334.43 271.48 L336.27 270.54 L338.14 269.65 L340.05 268.80 L342.00 268.00"/>
<path d="M148.60 394.70 L150.54 394.11 L152.47 393.48 L154.39 392.82 L156.29 392.13 L158.18 391.42 L160.07 390.67 L161.94 389.91 L163.81 389.13 L165.67 388.33 L167.53 387.51 L169.38 386.68 L171.22 385.84 L173.06 384.99 L174.90 384.13 L176.74 383.27 L178.57 382.41 L180.41 381.55 L182.24 380.69 L184.08 379.83 L185.92 378.98 L187.76 378.12 L189.59 377.27 L191.43 376.41 L193.26 375.56 L195.09 374.70 L196.93 373.83 L198.76 372.97 L200.58 372.10 L202.41 371.22 L204.23 370.34 L206.05 369.45 L207.86 368.55 L209.67 367.65 L211.48 366.73 L213.28 365.81 L215.07 364.88 L216.86 363.93 L218.65 362.97 L220.43 362.00 L222.20 361.02 L223.97 360.03 L225.74 359.03 L227.50 358.02 L229.26 357.00 L231.02 355.98 L232.77 354.95 L234.52 353.92 L236.27 352.88 L238.02 351.84 L239.77 350.79 L241.52 349.75 L243.27 348.71 L245.01 347.66 L246.76 346.62 L248.50 345.57 L250.24 344.50 L251.96 343.43 L253.67 342.34 L255.36 341.22 L257.03 340.08 L258.67 338.91 L260.30 337.72 L261.90 336.49 L263.48 335.24 L265.03 333.97 L266.57 332.67 L268.09 331.35 L269.59 330.00 L271.08 328.64 L272.55 327.26 L274.00 325.86 L275.44 324.44 L276.86 323.01 L278.27 321.56 L279.67 320.09 L281.06 318.62 L282.44 317.13 L283.81 315.63 L285.17 314.12 L286.52 312.60 L287.86 311.08 L289.20 309.55 L290.54 308.01 L291.87 306.47 L293.19 304.93 L294.52 303.38 L295.84 301.83 L297.16 300.29 L298.49 298.75 L299.82 297.21 L301.16 295.69 L302.51 294.18 L303.87 292.69 L305.25 291.21 L306.65 289.76 L308.07 288.33 L309.52 286.93 L310.99 285.56 L312.48 284.22 L314.01 282.92 L315.57 281.66 L317.17 280.44 L318.81 279.26 L320.47 278.12 L322.18 277.02 L323.91 275.97 L325.68 274.95 L327.49 273.98 L329.32 273.05 L331.18 272.16 L333.08 271.31 L335.00 270.50"/>
<path d="M161.80 370.80 L163.73 370.15 L165.65 369.47 L167.54 368.75 L169.43 368.01 L171.29 367.24 L173.15 366.45 L174.99 365.63 L176.82 364.78 L178.64 363.92 L180.45 363.04 L182.26 362.14 L184.05 361.23 L185.84 360.30 L187.62 359.37 L189.40 358.42 L191.17 357.46 L192.94 356.50 L194.71 355.53 L196.48 354.56 L198.24 353.58 L200.01 352.61 L201.78 351.64 L203.55 350.67 L205.33 349.71 L207.11 348.76 L208.90 347.81 L210.69 346.88 L212.49 345.95 L214.30 345.04 L216.12 344.15 L217.94 343.27 L219.78 342.40 L221.62 341.54 L223.46 340.68 L225.31 339.84 L227.16 339.00 L229.01 338.16 L230.86 337.32 L232.71 336.49 L234.56 335.65 L236.41 334.81 L238.25 333.97 L240.10 333.12 L241.93 332.26 L243.76 331.39 L245.58 330.51 L247.40 329.62 L249.20 328.71 L250.99 327.79 L252.78 326.85 L254.55 325.90 L256.30 324.92 L258.05 323.92 L259.78 322.90 L261.49 321.85 L263.18 320.77 L264.86 319.67 L266.52 318.54 L268.16 317.38 L269.79 316.20 L271.40 315.00 L273.00 313.78 L274.59 312.54 L276.17 311.28 L277.74 310.01 L279.30 308.73 L280.85 307.44 L282.40 306.13 L283.94 304.82 L285.48 303.51 L287.02 302.19 L288.56 300.87 L290.09 299.55 L291.63 298.23 L293.17 296.91 L294.72 295.60 L296.26 294.30 L297.82 293.00 L299.38 291.72 L300.95 290.45 L302.53 289.19 L304.12 287.95 L305.72 286.73 L307.33 285.52 L308.96 284.34 L310.60 283.18 L312.26 282.05 L313.94 280.94 L315.63 279.87 L317.35 278.82 L319.08 277.81 L320.84 276.83 L322.62 275.88 L324.43 274.97 L326.26 274.11 L328.11 273.28 L330.00 272.50"/>
</g>
<g fill="none" stroke="#00f" stroke-width="6.00" stroke-linejoin="round">
<path d="M328.00 271.30 L329.82 270.42 L331.64 269.54 L333.46 268.66 L335.28 267.79 L337.10 266.91 L338.92 266.03 L340.73 265.15 L342.55 264.27 L344.37 263.39 L346.18 262.51 L348.00 261.63 L349.81 260.74 L351.62 259.86 L353.43 258.97 L355.24 258.09 L357.05 257.20 L358.86 256.31 L360.67 255.42 L362.48 254.53 L364.29 253.63 L366.09 252.74 L367.90 251.84 L369.70 250.94 L371.50 250.04 L373.30 249.13 L375.10 248.22 L376.90 247.31 L378.70 246.40 L380.50 245.48 L382.29 244.56 L384.09 243.64 L385.88 242.72 L387.68 241.79 L389.47 240.87 L391.26 239.94 L393.05 239.01 L394.84 238.07 L396.63 237.14 L398.42 236.20 L400.20 235.26 L401.99 234.32" stroke-dasharray="12.5 12.5"/>
<path d="M558.27 141.55 L557.14 143.23 L556.00 144.88 L554.82 146.51 L553.61 148.12 L552.38 149.70 L551.11 151.25 L549.81 152.78 L548.47 154.27 L547.10 155.73 L545.70 157.15 L544.26 158.54 L542.78 159.88 L541.26 161.18 L539.70 162.44 L538.10 163.65 L536.46 164.81 L534.79 165.93 L533.08 167.00 L531.35 168.05 L529.59 169.06 L527.82 170.04 L526.03 171.01 L524.24 171.95 L522.43 172.88 L520.62 173.79 L518.81 174.69 L516.99 175.58 L515.16 176.46 L513.33 177.34 L511.50 178.20 L509.67 179.07 L507.84 179.93 L506.01 180.79 L504.18 181.65 L502.35 182.52 L500.53 183.39 L498.70 184.26 L496.88 185.14 L495.06 186.02 L493.25 186.90 L491.43 187.79 L489.62 188.68 L487.81 189.57 L486.00 190.46 L484.19 191.36 L482.38 192.26 L480.58 193.16 L478.78 194.07 L476.98 194.98 L475.18 195.89 L473.38 196.80 L471.58 197.72 L469.79 198.63 L468.00 199.55 L466.20 200.47 L464.41 201.40 L462.62 202.32 L460.83 203.25 L459.04 204.18 L457.26 205.11 L455.47 206.04 L453.68 206.97 L451.90 207.91 L450.12 208.84 L448.33 209.78 L446.55 210.72 L444.77 211.66 L442.98 212.60 L441.20 213.54 L439.42 214.48 L437.64 215.43 L435.86 216.37 L434.08 217.31 L432.30 218.26 L430.52 219.20 L428.74 220.15 L426.96 221.10 L425.17 222.04 L423.39 222.99 L421.61 223.94 L419.83 224.88 L418.05 225.83 L416.27 226.78 L414.48 227.72 L412.70 228.67 L410.92 229.61 L409.13 230.56 L407.35 231.50 L405.56 232.44 L403.78 233.38 L401.99 234.32 L400.20 235.26 L398.42 236.20" stroke-dasharray="21 4" stroke-width="7.5"/>
<path d="M558.27 141.55 L559.36 139.86 L560.43 138.16 L561.47 136.44 L562.49 134.71 L563.49 132.96 L564.46 131.20 L565.42 129.43 L566.35 127.65 L567.26 125.85 L568.16 124.05 L569.03 122.23 L569.89 120.41 L570.74 118.57 L571.56 116.73" stroke-width="7"/>
<path d="M583.37 86.48 L582.68 88.39 L581.98 90.30 L581.29 92.21 L580.58 94.12 L579.88 96.03 L579.17 97.93 L578.45 99.83 L577.72 101.73 L576.99 103.62 L576.25 105.51 L575.50 107.40 L574.74 109.28 L573.96 111.15 L573.18 113.02 L572.38 114.88 L571.56 116.73" stroke-dasharray="14 3 20"/>
<path d="M595.60 54.50 L594.82 56.33 L594.05 58.17 L593.29 60.02 L592.54 61.88 L591.80 63.74 L591.07 65.61 L590.35 67.49 L589.64 69.37 L588.93 71.26 L588.22 73.15 L587.52 75.05 L586.83 76.95 L586.13 78.85 L585.44 80.76 L584.75 82.66 L584.06 84.57 L583.37 86.48" stroke-dasharray="12.5 12.5" stroke-dashoffset="8.5"/>
<path d="M402.00 225.50 L400.30 226.69 L398.60 227.87 L396.88 229.03 L395.16 230.18 L393.44 231.32 L391.70 232.45 L389.96 233.56 L388.21 234.67 L386.45 235.76 L384.69 236.85 L382.92 237.92 L381.15 238.98 L379.37 240.04 L377.58 241.08 L375.79 242.12 L373.99 243.14 L372.19 244.16 L370.39 245.17 L368.58 246.17 L366.76 247.17 L364.94 248.15 L363.12 249.13 L361.29 250.11 L359.46 251.07 L357.62 252.03 L355.78 252.99 L353.94 253.94 L352.09 254.88 L350.25 255.82 L348.40 256.76 L346.54 257.69 L344.69 258.61 L342.83 259.54 L340.97 260.45 L339.11 261.37 L337.25 262.28 L335.39 263.19 L333.52 264.10 L331.66 265.01 L329.79 265.91 L327.93 266.82 L326.06 267.72 L324.19 268.62 L322.33 269.52 L320.46 270.42 L318.59 271.32 L316.73 272.22 L314.86 273.13 L313.00 274.03 L311.14 274.93 L309.28 275.84 L307.42 276.75 L305.56 277.66 L303.70 278.57 L301.85 279.48 L300.00 280.40"/>
<path d="M300.00 280.40 L298.12 281.22 L296.25 282.04 L294.39 282.86 L292.53 283.70 L290.68 284.53 L288.83 285.38 L286.99 286.22 L285.15 287.08 L283.32 287.93 L281.49 288.79 L279.67 289.66 L277.85 290.53 L276.03 291.40 L274.22 292.28 L272.41 293.16 L270.60 294.04 L268.80 294.93 L267.00 295.82 L265.20 296.71 L263.40 297.61 L261.61 298.51 L259.81 299.41 L258.02 300.32 L256.23 301.22 L254.44 302.13 L252.65 303.04 L250.86 303.96 L249.07 304.87 L247.28 305.79 L245.49 306.71 L243.69 307.62 L241.90 308.55 L240.11 309.47 L238.31 310.39 L236.52 311.31 L234.72 312.24 L232.92 313.16 L231.11 314.08 L229.31 315.01 L227.50 315.93 L225.69 316.86 L223.87 317.78 L222.06 318.70 L220.23 319.63 L218.41 320.55 L216.59 321.48 L214.76 322.41 L212.94 323.35 L211.13 324.29 L209.32 325.25 L207.51 326.21 L205.72 327.18 L203.93 328.16 L202.16 329.16 L200.40 330.17 L198.65 331.20 L196.91 332.25 L195.20 333.31 L193.50 334.40 L191.82 335.51 L190.17 336.64 L188.54 337.79 L186.93 338.97 L185.34 340.18 L183.79 341.41 L182.26 342.68 L180.76 343.97 L179.29 345.30 L177.86 346.66 L176.46 348.06 L175.09 349.49 L173.77 350.96 L172.48 352.47 L171.23 354.02 L170.01 355.60 L168.82 357.21 L167.67 358.85 L166.55 360.52 L165.46 362.22 L164.40 363.94 L163.36 365.68 L162.35 367.44 L161.37 369.22 L160.40 371.01 L159.46 372.82 L158.53 374.64 L157.63 376.46 L156.74 378.30 L155.86 380.15 L155.00 382.00 L154.15 383.86 L153.32 385.72 L152.49 387.58 L151.67 389.45 L150.86 391.32 L150.06 393.18 L149.26 395.05"/>
<path d="M149.26 395.05 L148.47 396.91 L147.68 398.78 L146.89 400.64 L146.11 402.51 L145.33 404.37 L144.56 406.23 L143.79 408.10 L143.02 409.96 L142.25 411.82 L141.49 413.68 L140.73 415.54 L139.97 417.40 L139.21 419.26 L138.45 421.13 L137.69 422.99 L136.93 424.85" stroke-dasharray="18 3 20"/>
<path d="M122.90 458.40 L123.71 456.53 L124.52 454.66 L125.33 452.79 L126.13 450.93 L126.92 449.06 L127.71 447.20 L128.49 445.33 L129.27 443.47 L130.05 441.60 L130.82 439.74 L131.59 437.88 L132.36 436.02 L133.13 434.15 L133.89 432.29 L134.65 430.43 L135.41 428.57 L136.17 426.71 L136.93 424.85" stroke-dasharray="12.5 12.5" stroke-dashoffset="8.5"/>
</g>
<g fill="#00f">
<circle cx="595.4" cy="55.0" r="4.5"/>
<circle cx="583.0" cy="87.0" r="4.5"/>
<circle cx="569.9" cy="117.3" r="4.5"/>
<circle cx="556.9" cy="142.2" r="4.5"/>
<circle cx="122.4" cy="457.8" r="4.5"/>
<circle cx="135.2" cy="425.6" r="4.5"/>
<circle cx="148.2" cy="394.3" r="4.5"/>
<circle cx="161.8" cy="370.8" r="4.5"/>
</g>
<rect x="107.5" y="4.5" width="504" height="504" fill="none" stroke="#000" stroke-width="3"/>
<path d="M170.5 6V12M170.5 507V501M233.5 6V12M233.5 507V501M296.5 6V12M296.5 507V501M359.5 6V12M359.5 507V501M422.5 6V12M422.5 507V501M485.5 6V12M485.5 507V501M548.5 6V12M548.5 507V501M109 458.1H115M610 458.1H604M109 407.7H115M610 407.7H604M109 357.3H115M610 357.3H604M109 306.9H115M610 306.9H604M109 256.5H115M610 256.5H604M109 206.1H115M610 206.1H604M109 155.7H115M610 155.7H604M109 105.3H115M610 105.3H604M109 54.9H115M610 54.9H604" stroke="#000" stroke-width="2.6" fill="none"/>
<text x="107.5" y="539.7" font-family="Liberation Sans" font-size="30.5" text-anchor="middle">-4</text>
<text x="233.5" y="539.7" font-family="Liberation Sans" font-size="30.5" text-anchor="middle">-2</text>
<text x="359.5" y="539.7" font-family="Liberation Sans" font-size="30.5" text-anchor="middle">0</text>
<text x="485.5" y="539.7" font-family="Liberation Sans" font-size="30.5" text-anchor="middle">2</text>
<text x="611.5" y="539.7" font-family="Liberation Sans" font-size="30.5" text-anchor="middle">4</text>
<text x="97.2" y="463.7" font-family="Liberation Sans" font-size="30.5" text-anchor="end">-20</text>
<text x="97.2" y="362.9" font-family="Liberation Sans" font-size="30.5" text-anchor="end">-10</text>
<text x="97.2" y="262.1" font-family="Liberation Sans" font-size="30.5" text-anchor="end">0</text>
<text x="97.2" y="161.3" font-family="Liberation Sans" font-size="30.5" text-anchor="end">10</text>
<text x="97.2" y="60.5" font-family="Liberation Sans" font-size="30.5" text-anchor="end">20</text>
<line x1="132.3" y1="48.4" x2="183" y2="48.4" stroke="#f00" stroke-width="5.3"/>
<line x1="132.3" y1="91.8" x2="183" y2="91.8" stroke="#00f" stroke-width="5.5" stroke-dasharray="6.6 12.3 12.8 12.3 6.6 100"/>
<text x="197" y="54" font-family="Liberation Sans" font-size="28" font-style="italic">Simulated</text>
<text x="197" y="96.3" font-family="Liberation Sans" font-size="28" font-style="italic">Measured</text>
<text x="272.5" y="576.6" font-family="Liberation Sans" font-size="30.5" font-style="italic">E</text>
<text x="292.3" y="587" font-family="Liberation Sans" font-size="17" font-style="italic">AFE</text>
<text x="334.3" y="576.4" font-family="Liberation Sans" font-size="30.5">(MV/cm)</text>
<g transform="translate(26.8,347.2) rotate(-90)">
<text x="0" y="0" font-family="Liberation Sans" font-size="30" font-style="italic">Q</text>
<text x="24.4" y="10.4" font-family="Liberation Sans" font-size="17" font-style="italic">AFE</text>
<text x="65.2" y="0" font-family="Liberation Sans" font-size="30">(μC/cm</text>
<text x="162" y="-10.4" font-family="Liberation Sans" font-size="17">2</text>
<text x="172" y="0" font-family="Liberation Sans" font-size="30">)</text>
</g>
</svg>
</body></html>
